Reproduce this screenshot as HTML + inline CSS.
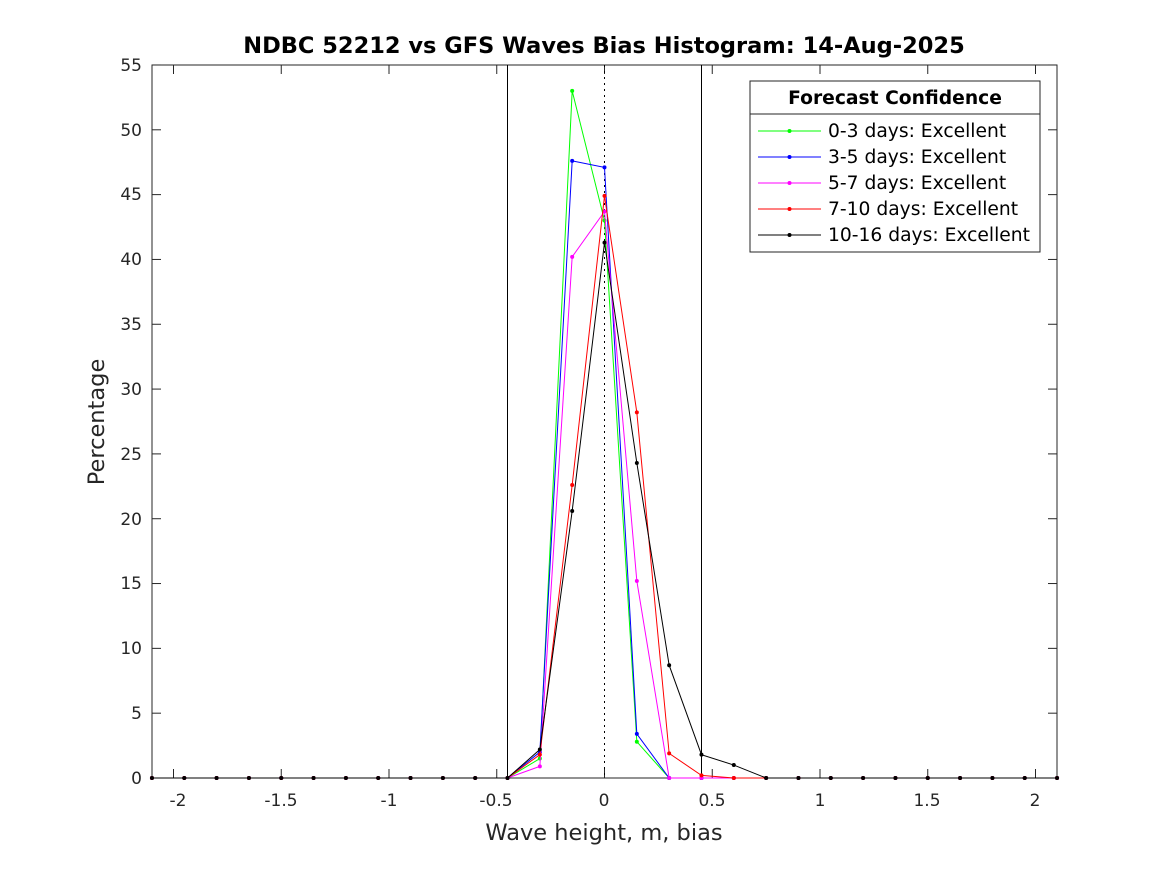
<!DOCTYPE html>
<html><head><meta charset="utf-8"><style>
body{margin:0;background:#fff;}
svg{display:block;font-family:"DejaVu Sans","Liberation Sans",sans-serif;}
</style></head><body>
<svg id="s" width="1167" height="875" xmlns="http://www.w3.org/2000/svg">
<rect width="1167" height="875" fill="#fff"/>
<rect x="152" y="65" width="905" height="713" fill="#fff" stroke="#262626" stroke-width="1"/>
<g id="ticks" stroke="#262626" stroke-width="1"></g>
<line x1="507.5" y1="65" x2="507.5" y2="778" stroke="#000"/>
<line x1="701.5" y1="65" x2="701.5" y2="778" stroke="#000"/>
<line x1="604.5" y1="65" x2="604.5" y2="778" stroke="#000" stroke-dasharray="2,4"/>
<g id="series"></g>
<g font-size="17" fill="#262626" text-anchor="middle">
<text x="178" y="806">-2</text><text x="281" y="806">-1.5</text><text x="389" y="806">-1</text>
<text x="496" y="806">-0.5</text><text x="604" y="806">0</text><text x="712" y="806">0.5</text>
<text x="820" y="806">1</text><text x="927" y="806">1.5</text><text x="1035" y="806">2</text>
</g>
<g font-size="17" fill="#262626" text-anchor="end">
<text x="142" y="784">0</text><text x="142" y="719">5</text><text x="142" y="654">10</text>
<text x="142" y="589">15</text><text x="142" y="525">20</text><text x="142" y="460">25</text>
<text x="142" y="395">30</text><text x="142" y="330">35</text><text x="142" y="265">40</text>
<text x="142" y="200">45</text><text x="142" y="136">50</text><text x="142" y="71">55</text>
</g>
<text x="604" y="840" font-size="22.5" fill="#262626" text-anchor="middle">Wave height, m, bias</text>
<text transform="translate(104,422) rotate(-90)" font-size="22.5" fill="#262626" text-anchor="middle">Percentage</text>
<text x="604" y="53" font-size="22.5" font-weight="bold" fill="#000" text-anchor="middle">NDBC 52212 vs GFS Waves Bias Histogram: 14-Aug-2025</text>
<rect x="750" y="81" width="290" height="171" fill="#fff" stroke="#262626"/>
<line x1="750" y1="114" x2="1040" y2="114" stroke="#262626"/>
<text x="895" y="104" font-size="18.7" font-weight="bold" fill="#000" text-anchor="middle">Forecast Confidence</text>
<g id="leg" font-size="18.7" fill="#000"></g>
</svg>
<script>
const X=v=>604.5+v*215.5, Y=v=>778-v*12.964;
const ns="http://www.w3.org/2000/svg";
const t=document.getElementById('ticks');
function ln(g,x1,y1,x2,y2){const l=document.createElementNS(ns,'line');l.setAttribute('x1',x1);l.setAttribute('y1',y1);l.setAttribute('x2',x2);l.setAttribute('y2',y2);g.appendChild(l);}
for(let v=-2;v<=2.001;v+=0.5){ln(t,X(v),778,X(v),769);ln(t,X(v),65,X(v),74);}
for(let v=0;v<=55;v+=5){ln(t,152,Y(v),161,Y(v));ln(t,1057,Y(v),1048,Y(v));}
const base=[];for(let i=0;i<=28;i++)base.push(-2.1+i*0.15);
const S=[
["#00ff00",{"-0.3":1.5,"-0.15":53,"0":43,"0.15":2.8}],
["#0000ff",{"-0.3":2,"-0.15":47.6,"0":47.1,"0.15":3.4}],
["#ff00ff",{"-0.3":0.9,"-0.15":40.2,"0":43.7,"0.15":15.2}],
["#ff0000",{"-0.3":1.8,"-0.15":22.6,"0":44.9,"0.15":28.2,"0.3":1.9,"0.45":0.2}],
["#000000",{"-0.3":2.2,"-0.15":20.6,"0":41.3,"0.15":24.3,"0.3":8.7,"0.45":1.8,"0.6":1.0}]];
const g=document.getElementById('series');
S.forEach(([c,d])=>{
 let pts=base.map(x=>{const k=String(Math.round(x*100)/100);return [X(x),Y(d[k]||0)];});
 const p=document.createElementNS(ns,'polyline');
 p.setAttribute('points',pts.map(a=>a.join(',')).join(' '));p.setAttribute('fill','none');p.setAttribute('stroke',c);p.setAttribute('stroke-width','1');g.appendChild(p);
 pts.forEach(a=>{const q=document.createElementNS(ns,'circle');q.setAttribute('cx',a[0]);q.setAttribute('cy',a[1]);q.setAttribute('r','2');q.setAttribute('fill',c);g.appendChild(q);});
});
const lg=document.getElementById('leg');
const names=["0-3 days: Excellent","3-5 days: Excellent","5-7 days: Excellent","7-10 days: Excellent","10-16 days: Excellent"];
names.forEach((n,i)=>{const y=131+i*26;const c=S[i][0];
 const l=document.createElementNS(ns,'line');l.setAttribute('x1',758);l.setAttribute('x2',821);l.setAttribute('y1',y);l.setAttribute('y2',y);l.setAttribute('stroke',c);lg.appendChild(l);
 const q=document.createElementNS(ns,'circle');q.setAttribute('cx',789.5);q.setAttribute('cy',y);q.setAttribute('r','2');q.setAttribute('fill',c);lg.appendChild(q);
 const tx=document.createElementNS(ns,'text');tx.setAttribute('x',828);tx.setAttribute('y',y+6);tx.textContent=n;lg.appendChild(tx);
});
</script>
</body></html>
